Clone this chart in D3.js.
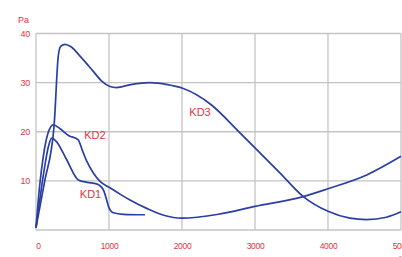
<!DOCTYPE html>
<html><head><meta charset="utf-8">
<script src="https://cdn.jsdelivr.net/npm/d3@7"></script>
<style>body{margin:0;background:#fff}svg{display:block}</style>
</head><body>
<script>
const xTicks = [0, 1000, 2000, 3000, 4000, 5000];
const yTicks = [10, 20, 30, 40];
const kd1 = [[0,0.5],[60,7],[120,13],[170,17],[215,18.7],[280,18],[420,14.3],[580,10.2],[700,9.7],[830,9.4],[922,8.2],[970,6],[1000,4.5],[1060,3.5],[1200,3.2],[1493,3.1]];
const kd2 = [[0,0.5],[50,9],[100,15],[160,19.5],[237,21.4],[330,20.6],[450,19.2],[575,18.4],[640,16],[695,14],[790,11.5],[877,9.9],[1014,8.6],[1150,7.3],[1288,6.1],[1516,4.4],[1750,3],[2000,2.4],[2500,3.2],[3000,4.8],[3662,6.8],[4000,8.4],[4530,11.2],[5000,15]];
const kd3 = [[0,0.5],[120,10],[247,21.1],[305,35.4],[338,37.4],[397,37.8],[480,37.3],[603,35.4],[785,32.3],[900,30.3],[1014,29.2],[1100,29],[1300,29.6],[1562,30],[1800,29.6],[2000,28.9],[2400,25.5],[2753,20.4],[3000,16.7],[3330,11.8],[3662,6.8],[4000,3.8],[4300,2.4],[4530,2.1],[4800,2.6],[5000,3.7]];
const seriesNames = ["KD1","KD2","KD3"];

const W = 402, H = 257;
const svg = d3.select("body").append("svg").attr("width", W).attr("height", H);
const x = d3.scaleLinear().domain([0, 5000]).range([36, 401]);
const y = d3.scaleLinear().domain([0, 40]).range([230, 33.5]);
const red = "#e2343f";
const grid = "#c4c4c4";

// grid
svg.append("g").selectAll("line.v").data(xTicks).join("line")
  .attr("x1", d => x(d)).attr("x2", d => x(d)).attr("y1", y(0)).attr("y2", y(40))
  .attr("stroke", grid).attr("stroke-width", 1.3);
svg.append("g").selectAll("line.h").data([0].concat(yTicks)).join("line")
  .attr("x1", x(0)).attr("x2", x(5000)).attr("y1", d => y(d)).attr("y2", d => y(d))
  .attr("stroke", grid).attr("stroke-width", 1.3);

// axes labels
const xa = d3.axisBottom(x).tickValues(xTicks).tickSize(0).tickPadding(0).tickFormat(d3.format("d"));
const gx = svg.append("g").attr("transform", `translate(0,${y(0)})`).call(xa);
gx.select(".domain").remove();
gx.selectAll("text").attr("fill", red).attr("font-family", "Liberation Sans, Arial, sans-serif")
  .attr("font-size", 8.5).attr("dy", "0").attr("y", 19).attr("letter-spacing", -0.3);
gx.selectAll(".tick").filter(d => d === 0).select("text").attr("dx", 2);

const ya = d3.axisLeft(y).tickValues(yTicks).tickSize(0).tickPadding(0);
const gy = svg.append("g").attr("transform", `translate(30,0)`).call(ya);
gy.select(".domain").remove();
gy.selectAll("text").attr("fill", red).attr("font-family", "Liberation Sans, Arial, sans-serif")
  .attr("font-size", 9).attr("letter-spacing", -0.3);

svg.append("text").text("Pa").attr("x", 18).attr("y", 23).attr("fill", red)
  .attr("font-family", "Liberation Sans, Arial, sans-serif").attr("font-size", 9);
svg.append("text").text("m³/h").attr("x", 392).attr("y", 262).attr("fill", red)
  .attr("font-family", "Liberation Sans, Arial, sans-serif").attr("font-size", 8.5);

// curves
const line = d3.line().x(d => x(d[0])).y(d => y(d[1])).curve(d3.curveMonotoneX);
[kd1, kd2, kd3].forEach(s => {
  svg.append("path").datum(s).attr("d", line).attr("fill", "none")
    .attr("stroke", "#2b3fa3").attr("stroke-width", 1.7).attr("stroke-linejoin", "round");
});

// series labels
const labelPos = [[600, 6.6], [660, 18.6], [2100, 23.2]];
svg.append("g").selectAll("text").data(seriesNames).join("text")
  .text(d => d).attr("x", (d, i) => x(labelPos[i][0])).attr("y", (d, i) => y(labelPos[i][1]))
  .attr("fill", red).attr("font-family", "Liberation Sans, Arial, sans-serif").attr("font-size", 11);
</script>
</body></html>
